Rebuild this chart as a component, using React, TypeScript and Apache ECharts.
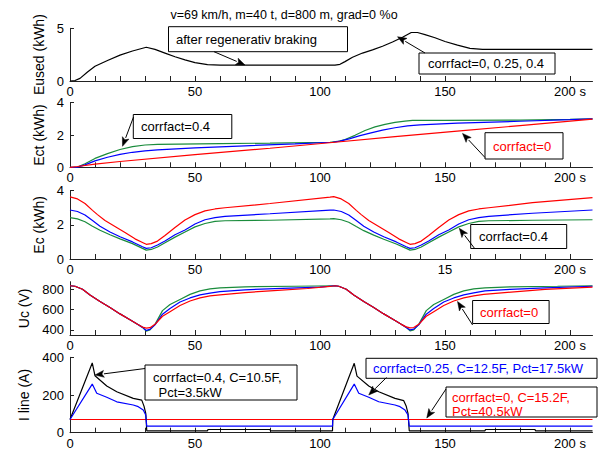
import React, { useEffect, useRef } from "react";
import * as echarts from "echarts";

const FONT = "'Liberation Sans', Arial, sans-serif";
const RED = "#ff0000";
const BLUE = "#0000ff";
const GREEN = "#1a8c3c";
const BLACK = "#000000";

const titleText = "v=69 km/h, m=40 t, d=800 m, grad=0 %o";

// x axis (time, s)
const xTickValues = [0, 10, 20, 30, 40, 50, 60, 70, 80, 90, 100, 110, 120, 130, 140, 150, 160, 170, 180, 190, 200];
const xLabelValues = [0, 50, 100, 150, 200];
const xLabelTexts = ["0", "50", "100", "150", "200 s"];
const xLabelTextsEc = ["0", "50", "100", "15", "200 s"];

// y axes
const yNames = ["Eused (kWh)", "Ect (kWh)", "Ec (kWh)", "Uc (V)", "I line (A)"];
const yMins = [0, 0, 0, 350, 0];
const yMaxs = [5, 4, 4, 875, 400];
const yTickValues = [[0, 5], [0, 2, 4], [0, 2, 4], [400, 600, 800], [0, 200, 400]];

// Panel 1: Eused (all corrfact identical)
const eusedT = [0, 2, 4, 7, 10, 15, 20, 25, 30.5, 34, 38, 42, 46, 50, 55, 60, 106, 108, 110, 113, 117, 121, 125, 129, 133, 136.5, 139, 142, 146, 150, 155, 160, 165, 209];
const eusedV = [0, 0.05, 0.25, 0.85, 1.4, 1.95, 2.45, 2.85, 3.2, 3.0, 2.65, 2.3, 2.0, 1.75, 1.55, 1.5, 1.5, 1.58, 1.84, 2.25, 2.65, 2.95, 3.3, 3.7, 4.15, 4.6, 4.6, 4.4, 4.1, 3.75, 3.4, 3.1, 3.0, 3.0];

// Panel 2: Ect
const ectGreenT = [0, 3, 6, 10, 15, 20, 25, 30, 35, 60, 80, 104, 107, 110, 114, 118, 122, 126, 130, 134, 137, 150, 180, 200, 209];
const ectGreenV = [0, 0.02, 0.22, 0.55, 0.85, 1.1, 1.28, 1.38, 1.42, 1.46, 1.5, 1.55, 1.6, 1.72, 1.98, 2.28, 2.5, 2.66, 2.78, 2.86, 2.9, 2.9, 2.92, 2.97, 3.0];
const ectBlueT = [0, 3, 6, 10, 15, 20, 25, 30, 35, 50, 70, 90, 105, 108, 112, 116, 120, 125, 130, 135, 140, 155, 180, 200, 209];
const ectBlueV = [0, 0.01, 0.15, 0.4, 0.62, 0.8, 0.93, 1.02, 1.08, 1.2, 1.33, 1.45, 1.55, 1.62, 1.78, 1.96, 2.12, 2.3, 2.45, 2.57, 2.63, 2.73, 2.85, 2.95, 3.0];
const ectRedT = [0, 3, 10, 20, 50, 80, 106, 130, 156, 180, 209];
const ectRedV = [0, 0.05, 0.2, 0.36, 0.78, 1.18, 1.55, 1.9, 2.25, 2.58, 2.98];

// Panel 3: Ec
const ecRedT = [0, 3, 6, 9, 11, 14, 18, 22, 26, 29, 30.5, 32.5, 35, 38, 42, 46, 50, 54, 58, 62, 80, 104, 105.5, 108.5, 111.5, 114.5, 116.5, 119.5, 123.5, 127.5, 131.5, 134.5, 136, 138, 140.5, 143.5, 147.5, 151.5, 155.5, 159.5, 163.5, 167.5, 185, 209];
const ecRedV = [3.64, 3.52, 3.25, 2.85, 2.6, 2.25, 1.9, 1.55, 1.18, 0.97, 0.86, 0.9, 1.05, 1.38, 1.85, 2.28, 2.6, 2.82, 2.93, 3.0, 3.25, 3.62, 3.65, 3.52, 3.25, 2.85, 2.6, 2.25, 1.9, 1.55, 1.18, 0.97, 0.86, 0.9, 1.05, 1.38, 1.85, 2.28, 2.6, 2.82, 2.93, 3.0, 3.3, 3.6];
const ecBlueT = [0, 3, 6, 9, 12, 16, 20, 25, 29, 30.5, 32.5, 35, 38, 42, 46, 50, 54, 58, 62, 80, 104, 105.5, 108.5, 111.5, 114.5, 117.5, 121.5, 125.5, 130.5, 134.5, 136, 138, 140.5, 143.5, 147.5, 151.5, 155.5, 159.5, 163.5, 167.5, 185, 209];
const ecBlueV = [2.87, 2.78, 2.58, 2.25, 1.92, 1.58, 1.3, 1.0, 0.72, 0.62, 0.66, 0.82, 1.05, 1.42, 1.7, 2.05, 2.3, 2.42, 2.5, 2.65, 2.86, 2.87, 2.78, 2.58, 2.25, 1.92, 1.58, 1.3, 1.0, 0.72, 0.62, 0.66, 0.82, 1.05, 1.42, 1.7, 2.05, 2.3, 2.42, 2.5, 2.68, 2.87];
const ecGreenT = [0, 3, 6, 9, 12, 16, 20, 25, 29, 30.5, 32.5, 35, 38, 42, 46, 50, 54, 58, 62, 80, 104, 105.5, 108.5, 111.5, 114.5, 117.5, 121.5, 125.5, 130.5, 134.5, 136, 138, 140.5, 143.5, 147.5, 151.5, 155.5, 159.5, 163.5, 167.5, 185, 209];
const ecGreenV = [2.42, 2.35, 2.18, 1.92, 1.68, 1.42, 1.18, 0.9, 0.62, 0.52, 0.56, 0.7, 0.95, 1.28, 1.58, 1.88, 2.08, 2.2, 2.24, 2.27, 2.35, 2.36, 2.3, 2.15, 1.9, 1.66, 1.4, 1.16, 0.88, 0.62, 0.52, 0.56, 0.7, 0.95, 1.28, 1.58, 1.88, 2.08, 2.2, 2.24, 2.27, 2.3];

// Panel 4: Uc
const ucRedT = [0, 2, 5, 8, 12, 16, 20, 24, 27, 29, 30.5, 32, 34, 37, 40, 44, 48, 52, 56, 60, 70, 80, 95, 104, 106, 107.5, 110.5, 113.5, 117.5, 121.5, 125.5, 129.5, 132.5, 134.5, 136, 137.5, 139.5, 142.5, 145.5, 149.5, 153.5, 157.5, 161.5, 165.5, 175, 190, 209];
const ucRedV = [835, 830, 800, 745, 680, 620, 558, 500, 455, 428, 418, 422, 455, 535, 580, 640, 685, 715, 735, 745, 768, 785, 808, 828, 835, 830, 800, 745, 680, 620, 558, 500, 455, 430, 420, 424, 455, 535, 580, 640, 685, 715, 735, 750, 770, 800, 822];
const ucBlueT = [0, 2, 5, 8, 12, 16, 20, 24, 27, 29, 30.5, 32, 34, 37, 40, 44, 48, 52, 56, 60, 70, 85, 100, 106, 107.5, 110.5, 113.5, 117.5, 121.5, 125.5, 129.5, 132.5, 134.5, 136, 137.5, 139.5, 142.5, 145.5, 149.5, 153.5, 157.5, 161.5, 166, 176, 190, 209];
const ucBlueV = [835, 830, 800, 745, 680, 620, 558, 500, 455, 425, 395, 405, 450, 555, 610, 675, 715, 745, 762, 778, 795, 810, 822, 835, 830, 800, 745, 680, 620, 558, 500, 455, 425, 400, 408, 450, 555, 610, 675, 715, 745, 765, 785, 800, 815, 830];
const ucGreenT = [0, 2, 5, 8, 12, 16, 20, 24, 27, 29, 30.5, 32, 34, 37, 40, 44, 48, 52, 56, 60, 70, 90, 106, 107.5, 110.5, 113.5, 117.5, 121.5, 125.5, 129.5, 132.5, 134.5, 136, 137.5, 139.5, 142.5, 145.5, 149.5, 153.5, 157.5, 161.5, 166, 176, 195, 209];
const ucGreenV = [835, 830, 800, 745, 680, 620, 558, 500, 455, 425, 388, 400, 455, 590, 650, 700, 750, 785, 805, 815, 825, 830, 835, 830, 800, 745, 680, 620, 558, 500, 455, 425, 390, 400, 455, 590, 650, 700, 750, 785, 805, 815, 825, 830, 835];

// Panel 5: I line
const iBlackT = [0, 8.9, 10, 14.7, 18.7, 25.3, 28.7, 29.6, 30.3, 30.7, 55, 55.2, 80, 80.2, 105, 105.1, 113.7, 114.8, 119.5, 123.5, 130, 133.5, 134.5, 135.2, 135.7, 166, 166.2, 186, 186.2, 209];
const iBlackV = [70, 370, 302, 248, 217, 182, 173, 141, 103, 10, 10, 17, 17, 10, 10, 70, 368, 300, 248, 217, 182, 170, 140, 103, 10, 10, 17, 17, 10, 10];
const iBlueT = [0, 8.9, 10.7, 14.7, 18.7, 25.3, 27.3, 29.3, 30.3, 30.7, 105, 105.1, 113.7, 115.5, 119.5, 123.5, 130, 132, 134, 135.2, 135.7, 209];
const iBlueV = [70, 258, 209, 188, 164, 147, 138, 120, 94, 35, 35, 70, 258, 209, 188, 164, 147, 138, 120, 94, 35, 35];
const iRedT = [0, 209];
const iRedV = [70, 70];

// layout (pixels)
const GRID_LEFT = 70;
const GRID_RIGHT_EDGE = 592.5;
const gridTops = [28.3, 102.7, 190.7, 281.7, 357.3];
const gridHeights = [52.7, 64.6, 68.3, 53.3, 75.4];
const nameGaps = [23, 23, 23, 37, 37];

type Ann = {
  grid: number;
  box: number[];
  lines: { text: string; x: number; y: number }[];
  color: string;
  tail: number[];
  tip: number[];
};

const annotations: Ann[] = [
  { grid: 0, box: [168.5, 26.7, 179, 25], lines: [{ text: "after regenerativ braking", x: 176, y: 39.5 }], color: BLACK, tail: [214, 51.7], tip: [70, 1.52] },
  { grid: 0, box: [419, 53, 136, 21], lines: [{ text: "corrfact=0, 0.25, 0.4", x: 428, y: 63.5 }], color: BLACK, tail: [425, 53], tip: [131, 4.2] },
  { grid: 1, box: [133.3, 114.5, 98.5, 24], lines: [{ text: "corrfact=0.4", x: 141, y: 126.5 }], color: BLACK, tail: [133.5, 117], tip: [21, 1.3] },
  { grid: 1, box: [485, 132.7, 78, 26.3], lines: [{ text: "corrfact=0", x: 493, y: 146 }], color: RED, tail: [485, 157.5], tip: [157, 2.1] },
  { grid: 2, box: [470.7, 224.5, 96, 24], lines: [{ text: "corrfact=0.4", x: 479, y: 236.5 }], color: BLACK, tail: [474.5, 248.3], tip: [155.7, 1.8] },
  { grid: 3, box: [472.6, 300.5, 76.5, 23], lines: [{ text: "corrfact=0", x: 480, y: 312 }], color: RED, tail: [472.6, 325], tip: [155, 680] },
  { grid: 4, box: [145, 365, 152, 35], lines: [{ text: "corrfact=0.4, C=10.5F,", x: 153, y: 377 }, { text: " Pct=3.5kW", x: 155, y: 392 }], color: BLACK, tail: [145, 368.5], tip: [10, 306] },
  { grid: 4, box: [366, 358.3, 231, 20], lines: [{ text: "corrfact=0.25, C=12.5F, Pct=17.5kW", x: 373, y: 368.5 }], color: BLUE, tail: [386.5, 377.5], tip: [119.5, 200] },
  { grid: 4, box: [446, 387, 151, 30], lines: [{ text: "corrfact=0, C=15.2F,", x: 452, y: 397 }, { text: "Pct=40.5kW", x: 452, y: 411 }], color: RED, tail: [446, 389], tip: [142.7, 78] },
];

function zip(t: number[], v: number[]) {
  return t.map((x, i) => [x, v[i]]);
}

function lineSeries(grid: number, t: number[], v: number[], color: string) {
  return {
    type: "line",
    xAxisIndex: grid,
    yAxisIndex: grid,
    data: zip(t, v),
    showSymbol: false,
    symbol: "none",
    smooth: false,
    lineStyle: { color, width: 1.2 },
    silent: true,
  };
}

function buildOption() {
  const grids = gridTops.map((top, i) => ({
    left: GRID_LEFT,
    top,
    width: GRID_RIGHT_EDGE - GRID_LEFT,
    height: gridHeights[i],
    containLabel: false,
  }));
  const axisLineStyle = { color: "#222", width: 1 };
  const xAxes = gridTops.map((_, i) => {
    const texts = i === 2 ? xLabelTextsEc : xLabelTexts;
    return {
      type: "value",
      gridIndex: i,
      min: 0,
      max: 209,
      axisLine: { show: true, onZero: false, lineStyle: axisLineStyle },
      axisTick: { show: true, inside: true, length: 5, customValues: xTickValues, lineStyle: axisLineStyle },
      axisLabel: {
        show: true,
        customValues: xLabelValues,
        margin: 4,
        color: "#000",
        fontSize: 13,
        fontFamily: FONT,
        formatter: (val: number) => {
          const k = xLabelValues.indexOf(Math.round(val));
          return k >= 0 ? texts[k] : "";
        },
      },
      splitLine: { show: false },
    };
  });
  const yAxes = gridTops.map((_, i) => ({
    type: "value",
    gridIndex: i,
    min: yMins[i],
    max: yMaxs[i],
    name: yNames[i],
    nameLocation: "middle",
    nameGap: nameGaps[i],
    nameRotate: 90,
    nameTextStyle: { color: "#000", fontSize: 14, fontFamily: FONT },
    axisLine: { show: true, onZero: false, lineStyle: axisLineStyle },
    axisTick: { show: true, inside: true, length: 4, customValues: yTickValues[i], lineStyle: axisLineStyle },
    axisLabel: { show: true, customValues: yTickValues[i], margin: 6, color: "#000", fontSize: 13, fontFamily: FONT },
    splitLine: { show: false },
  }));
  const series = [
    lineSeries(0, eusedT, eusedV, BLACK),
    lineSeries(1, ectGreenT, ectGreenV, GREEN),
    lineSeries(1, ectBlueT, ectBlueV, BLUE),
    lineSeries(1, ectRedT, ectRedV, RED),
    lineSeries(2, ecGreenT, ecGreenV, GREEN),
    lineSeries(2, ecBlueT, ecBlueV, BLUE),
    lineSeries(2, ecRedT, ecRedV, RED),
    lineSeries(3, ucGreenT, ucGreenV, GREEN),
    lineSeries(3, ucBlueT, ucBlueV, BLUE),
    lineSeries(3, ucRedT, ucRedV, RED),
    lineSeries(4, iRedT, iRedV, RED),
    lineSeries(4, iBlackT, iBlackV, BLACK),
    lineSeries(4, iBlueT, iBlueV, BLUE),
  ];
  return {
    animation: false,
    backgroundColor: "#ffffff",
    grid: grids,
    xAxis: xAxes,
    yAxis: yAxes,
    series,
  };
}

function arrow(x1: number, y1: number, x2: number, y2: number) {
  const dx = x2 - x1;
  const dy = y2 - y1;
  const len = Math.hypot(dx, dy) || 1;
  const ux = dx / len;
  const uy = dy / len;
  const hl = 9;
  const hw = 3.5;
  const bx = x2 - ux * hl;
  const by = y2 - uy * hl;
  return [
    { type: "line", z: 20, shape: { x1, y1, x2: bx, y2: by }, style: { stroke: "#000", lineWidth: 1 } },
    {
      type: "polygon",
      z: 20,
      shape: { points: [[x2, y2], [bx - uy * hw, by + ux * hw], [bx + ux * 2 , by + uy * 2], [bx + uy * hw, by - ux * hw]] },
      style: { fill: "#000", stroke: "#000", lineWidth: 0.5 },
    },
  ];
}

function buildGraphics(chart: echarts.ECharts) {
  const els: any[] = [];
  els.push({
    type: "text",
    z: 20,
    style: { text: titleText, x: 284, y: 15, fill: "#000", fontSize: 12.5, fontFamily: FONT, textAlign: "center", textVerticalAlign: "middle" },
  });
  annotations.forEach((a) => {
    els.push({
      type: "rect",
      z: 18,
      shape: { x: a.box[0], y: a.box[1], width: a.box[2], height: a.box[3] },
      style: { fill: "#fff", stroke: "#000", lineWidth: 1 },
    });
    a.lines.forEach((l) => {
      els.push({
        type: "text",
        z: 19,
        style: { text: l.text, x: l.x, y: l.y, fill: a.color, fontSize: 13, fontFamily: FONT, textAlign: "left", textVerticalAlign: "middle" },
      });
    });
    const p = chart.convertToPixel({ gridIndex: a.grid } as any, a.tip) as number[];
    if (p) els.push(...arrow(a.tail[0], a.tail[1], p[0], p[1]));
  });
  return els;
}

export default function App() {
  const ref = useRef<HTMLDivElement>(null);
  useEffect(() => {
    if (!ref.current) return;
    const chart = echarts.init(ref.current, null, { renderer: "svg" });
    chart.setOption(buildOption() as any);
    chart.setOption({ graphic: { elements: buildGraphics(chart) } } as any);
    return () => chart.dispose();
  }, []);
  return (
    <div
      ref={ref}
      style={{ position: "absolute", left: 0, top: 0, width: 601, height: 457, background: "#fff" }}
    />
  );
}
